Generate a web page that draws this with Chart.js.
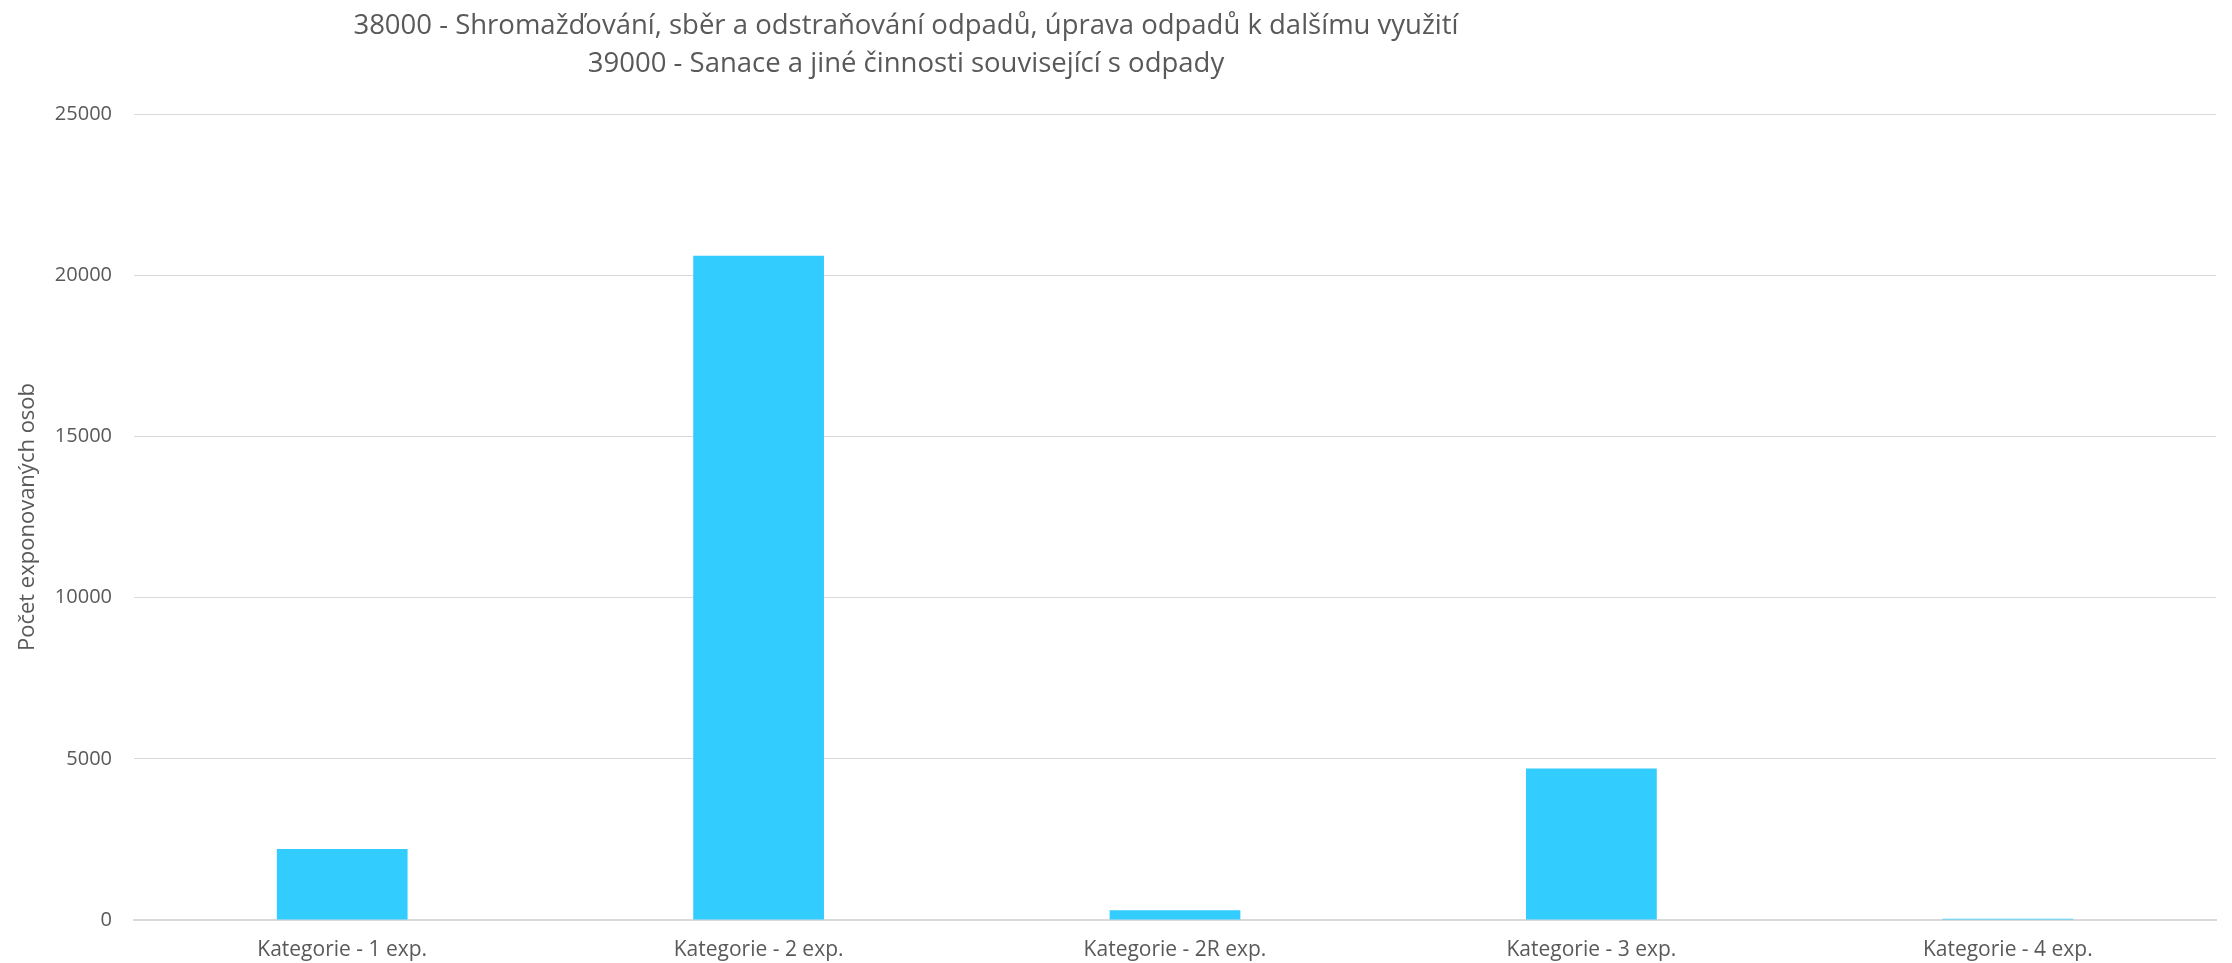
<!DOCTYPE html>
<html>
<head>
<meta charset="utf-8">
<script src="https://cdn.jsdelivr.net/npm/chart.js@4/dist/chart.umd.min.js"></script>
<style>
  html, body { margin: 0; padding: 0; background: #fff; }
  #wrap { position: relative; width: 2232px; height: 963px; }
  #title { position: absolute; left: 0; top: 5px; width: 1812px; text-align: center;
    font-family: "Open Sans", sans-serif; font-size: 27.5px; line-height: 38px; color: #595959; }
  canvas { position: absolute; left: 0; top: 0; }
</style>
</head>
<body>
<div id="wrap">
  <canvas id="chart" width="2232" height="963"></canvas>
  <div id="title">
    <div>38000 - Shromažďování, sběr a odstraňování odpadů, úprava odpadů k dalšímu využití</div>
    <div>39000 - Sanace a jiné činnosti související s odpady</div>
  </div>
</div>
<script>
const categories = ["Kategorie - 1 exp.", "Kategorie - 2 exp.", "Kategorie - 2R exp.", "Kategorie - 3 exp.", "Kategorie - 4 exp."];
const persons = [2200, 20600, 300, 4700, 40];
const yTicks = [0, 5000, 10000, 15000, 20000, 25000];
const yTitle = "Počet exponovaných osob";

document.addEventListener("DOMContentLoaded", function () {
  const canvas = document.getElementById("chart");
  new Chart(canvas, {
    type: "bar",
    data: {
      labels: categories,
      datasets: [{
        data: persons,
        backgroundColor: "#33ccff",
        borderWidth: 0,
        categoryPercentage: 1,
        barPercentage: 0.314
      }]
    },
    options: {
      responsive: false,
      animation: false,
      layout: { padding: { top: 114, right: 16, left: 0, bottom: 0 } },
      plugins: { legend: { display: false }, tooltip: { enabled: false } },
      scales: {
        x: {
          grid: { display: false, drawTicks: false },
          border: { color: "#d9d9d9", width: 2 },
          ticks: { color: "#595959", font: { family: "Open Sans", size: 21 }, padding: 17 },
          afterFit: s => { s.height = 43; }
        },
        y: {
          min: 0,
          max: 25000,
          afterBuildTicks: s => { s.ticks = yTicks.map(v => ({ value: v })); },
          grid: { color: "#d9d9d9", lineWidth: 1, drawTicks: false },
          border: { display: false },
          ticks: {
            color: "#595959",
            font: { family: "Open Sans", size: 20 },
            padding: 22,
            callback: v => String(v)
          },
          title: {
            display: true,
            text: yTitle,
            color: "#595959",
            font: { family: "Open Sans", size: 22 },
            padding: { top: 15, bottom: 0 }
          },
          afterFit: s => { s.width = 134; }
        }
      }
    }
  });
});
</script>
</body>
</html>
